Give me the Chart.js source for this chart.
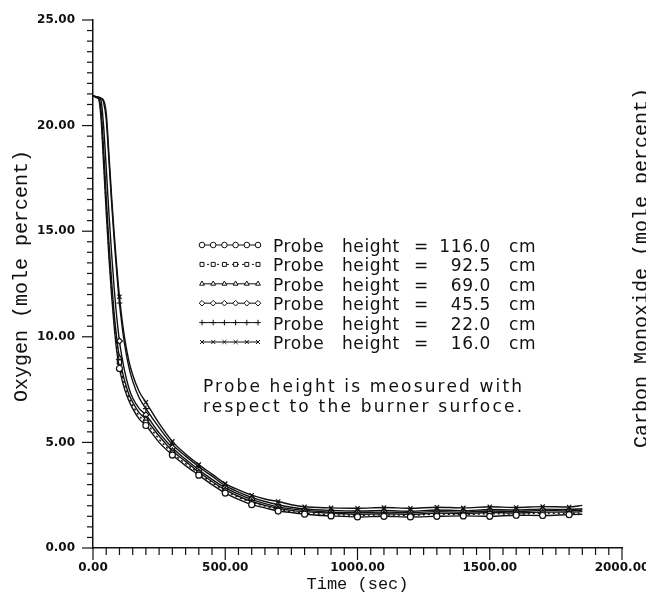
<!DOCTYPE html>
<html>
<head>
<meta charset="utf-8">
<script src="https://cdn.jsdelivr.net/npm/chart.js@4.4.1/dist/chart.umd.min.js"></script>
<style>
  html, body { margin: 0; padding: 0; background: #fff; }
</style>
</head>
<body>
<canvas id="myChart" width="646" height="597"></canvas>
<script>
// time (sec)
const times = [0, 20, 30, 40, 50, 60, 70, 80, 90, 100, 110, 120, 135, 150, 175, 200, 250, 300, 350, 400,
  450, 500, 550, 600, 650, 700, 750, 800, 900, 1000, 1100, 1200, 1300, 1400, 1500, 1600, 1700, 1800, 1850];

// oxygen (mole percent) per probe height
const o2_116 = [21.4, 21.3, 20.4, 18.2, 15.9, 13.8, 12.0, 10.5, 9.3, 8.5, 7.95, 7.5, 7.0, 6.6, 6.1, 5.8, 5.0, 4.4, 3.9, 3.45,
  3.0, 2.6, 2.3, 2.05, 1.9, 1.75, 1.68, 1.6, 1.52, 1.47, 1.5, 1.47, 1.5, 1.52, 1.5, 1.55, 1.54, 1.58, 1.6];
const o2_925 = [21.4, 21.3, 20.6, 18.5, 16.2, 14.1, 12.3, 10.8, 9.6, 8.8, 8.2, 7.7, 7.15, 6.75, 6.25, 5.95, 5.15, 4.5, 4.0, 3.55,
  3.1, 2.7, 2.4, 2.15, 1.98, 1.82, 1.72, 1.65, 1.58, 1.55, 1.57, 1.55, 1.6, 1.58, 1.62, 1.6, 1.65, 1.63, 1.66];
const o2_690 = [21.4, 21.3, 20.8, 18.9, 16.6, 14.5, 12.7, 11.1, 9.9, 9.0, 8.4, 7.9, 7.3, 6.9, 6.4, 6.1, 5.3, 4.6, 4.1, 3.6,
  3.15, 2.75, 2.45, 2.2, 2.02, 1.88, 1.78, 1.72, 1.65, 1.6, 1.62, 1.6, 1.65, 1.63, 1.68, 1.66, 1.7, 1.7, 1.72];
const o2_455 = [21.4, 21.3, 21.2, 20.0, 18.0, 15.9, 14.0, 12.3, 10.9, 9.8, 9.0, 8.35, 7.6, 7.1, 6.6, 6.3, 5.45, 4.75, 4.2, 3.7,
  3.25, 2.85, 2.55, 2.3, 2.1, 1.95, 1.85, 1.78, 1.7, 1.68, 1.7, 1.68, 1.72, 1.7, 1.75, 1.73, 1.78, 1.76, 1.8];
const o2_220 = [21.4, 21.35, 21.3, 21.1, 20.3, 18.4, 16.4, 14.6, 13.0, 11.6, 10.5, 9.6, 8.6, 7.9, 7.1, 6.6, 5.7, 4.9, 4.35, 3.85,
  3.4, 2.95, 2.65, 2.4, 2.2, 2.05, 1.93, 1.85, 1.78, 1.75, 1.78, 1.74, 1.8, 1.77, 1.82, 1.8, 1.84, 1.82, 1.86];
const o2_160 = [21.4, 21.35, 21.3, 21.2, 20.6, 18.7, 16.7, 14.9, 13.3, 11.9, 10.8, 9.9, 8.9, 8.2, 7.4, 6.9, 5.9, 5.05, 4.45, 3.95,
  3.5, 3.05, 2.75, 2.5, 2.32, 2.2, 2.05, 1.95, 1.9, 1.88, 1.92, 1.88, 1.93, 1.9, 1.95, 1.92, 1.96, 1.94, 2.02];

const probeHeights = ['116.0', '92.5', '69.0', '45.5', '22.0', '16.0'];
const seriesValues = [o2_116, o2_925, o2_690, o2_455, o2_220, o2_160];
const markerStyles = ['circle', 'rect', 'triangle', 'rectRot', 'cross', 'crossRot'];
const lineDashes = [[], [2, 3], [], [], [], []];

const xTickLabels = ['0.00', '500.00', '1000.00', '1500.00', '2000.00'];
const yTickLabels = ['0.00', '5.00', '10.00', '15.00', '20.00', '25.00'];

const noteLines = ['Probe height is meosured with', 'respect to the burner surfoce.'];

const INK = '#111';

function isMultiple(v, step) {
  return Math.abs(v / step - Math.round(v / step)) < 1e-6;
}

const datasets = seriesValues.map((vals, i) => ({
  label: 'Probe height = ' + probeHeights[i] + ' cm',
  data: times.map((t, j) => ({ x: t, y: vals[j] })),
  borderColor: INK,
  borderWidth: 1.4,
  borderDash: lineDashes[i],
  backgroundColor: '#fff',
  pointStyle: markerStyles[i],
  pointBorderColor: INK,
  pointBorderWidth: 1.2,
  pointRadius: ctx => {
    const t = ctx.raw ? ctx.raw.x : 0;
    return (t >= 100 && t <= 1800 && t % 100 === 0) ? 3 : 0;
  },
  cubicInterpolationMode: 'monotone',
  fill: false
}));

const tickFont = { family: '"DejaVu Sans"', size: 12, weight: 'bold' };

// ticks, axis titles, legend block and note
const decorPlugin = {
  id: 'decor',
  afterDraw(chart) {
    const ctx = chart.ctx;
    const xs = chart.scales.x;
    const ys = chart.scales.y;
    const area = chart.chartArea;
    ctx.save();
    ctx.strokeStyle = INK;
    ctx.fillStyle = INK;
    ctx.lineWidth = 1.2;

    // outward ticks
    ys.ticks.forEach(t => {
      const py = ys.getPixelForValue(t.value);
      const len = isMultiple(t.value, 5) ? 11 : 6;
      ctx.beginPath();
      ctx.moveTo(area.left, py);
      ctx.lineTo(area.left - len, py);
      ctx.stroke();
    });
    xs.ticks.forEach(t => {
      const px = xs.getPixelForValue(t.value);
      const len = isMultiple(t.value, 500) ? 12 : 7;
      ctx.beginPath();
      ctx.moveTo(px, area.bottom);
      ctx.lineTo(px, area.bottom + len);
      ctx.stroke();
    });

    // axis titles
    ctx.textAlign = 'center';
    ctx.textBaseline = 'middle';
    ctx.font = '17px "Liberation Mono"';
    ctx.fillText('Time (sec)', (area.left + area.right) / 2, 584);

    ctx.save();
    ctx.translate(22, 276);
    ctx.rotate(-Math.PI / 2);
    ctx.font = '20px "Liberation Mono"';
    ctx.fillText('Oxygen (mole percent)', 0, 0);
    ctx.restore();

    ctx.save();
    ctx.translate(647, 268);
    ctx.rotate(-Math.PI / 2);
    ctx.textBaseline = 'alphabetic';
    ctx.font = '20px "Liberation Mono"';
    ctx.fillText('Carbon Monoxide (mole percent)', 0, 0);
    ctx.restore();

    // legend block
    ctx.font = '17px "DejaVu Sans"';
    ctx.textBaseline = 'alphabetic';
    ctx.letterSpacing = '0.6px';
    datasets.forEach((ds, i) => {
      const base = 252 + i * 19.4;
      const my = base - 7;
      ctx.save();
      ctx.lineWidth = 1;
      ctx.setLineDash(ds.borderDash);
      ctx.beginPath();
      ctx.moveTo(202, my);
      ctx.lineTo(258, my);
      ctx.stroke();
      ctx.restore();
      for (let k = 0; k < 6; k++) {
        ctx.save();
        ctx.fillStyle = '#fff';
        ctx.strokeStyle = INK;
        ctx.lineWidth = 1;
        Chart.helpers.drawPoint(ctx, { pointStyle: ds.pointStyle, radius: 2.8, rotation: 0, borderWidth: 1 }, 202 + k * 11.2, my);
        ctx.restore();
      }
      ctx.textAlign = 'left';
      ctx.fillText('Probe', 273, base);
      ctx.fillText('height', 342, base);
      ctx.fillText('=', 414, base);
      ctx.textAlign = 'right';
      ctx.fillText(probeHeights[i], 491, base);
      ctx.textAlign = 'left';
      ctx.fillText('cm', 509, base);
    });

    // note under the legend, stretched to the original line width
    ctx.textAlign = 'left';
    noteLines.forEach((line, i) => {
      ctx.letterSpacing = '0px';
      const w = ctx.measureText(line).width;
      const sp = (319 - w) / (line.length - 1);
      ctx.letterSpacing = sp.toFixed(2) + 'px';
      ctx.fillText(line, 203, 392 + i * 19.5);
    });

    ctx.restore();
  }
};

new Chart(document.getElementById('myChart').getContext('2d'), {
  type: 'line',
  data: { datasets: datasets },
  options: {
    responsive: false,
    animation: false,
    devicePixelRatio: 1,
    layout: { padding: { top: 20, right: 24, left: 0, bottom: 0 } },
    plugins: {
      legend: { display: false },
      tooltip: { enabled: false }
    },
    scales: {
      x: {
        type: 'linear',
        min: 0,
        max: 2000,
        ticks: {
          stepSize: 50,
          autoSkip: false,
          maxRotation: 0,
          padding: 13,
          color: INK,
          font: tickFont,
          callback: v => isMultiple(v, 500) ? xTickLabels[Math.round(v / 500)] : ''
        },
        grid: { display: true, drawOnChartArea: false, drawTicks: false },
        border: { display: true, color: INK, width: 1.5 },
        afterFit: s => { s.height = 49; s.paddingLeft = 0; s.paddingRight = 0; }
      },
      y: {
        min: 0,
        max: 25,
        ticks: {
          stepSize: 0.5,
          autoSkip: false,
          padding: 18,
          color: INK,
          font: tickFont,
          callback: v => isMultiple(v, 5) ? yTickLabels[Math.round(v / 5)] : ''
        },
        grid: { display: true, drawOnChartArea: false, drawTicks: false },
        border: { display: true, color: INK, width: 1.5 },
        afterFit: s => { s.width = 93; s.paddingTop = 0; s.paddingBottom = 0; }
      }
    }
  },
  plugins: [decorPlugin]
});
</script>
</body>
</html>
